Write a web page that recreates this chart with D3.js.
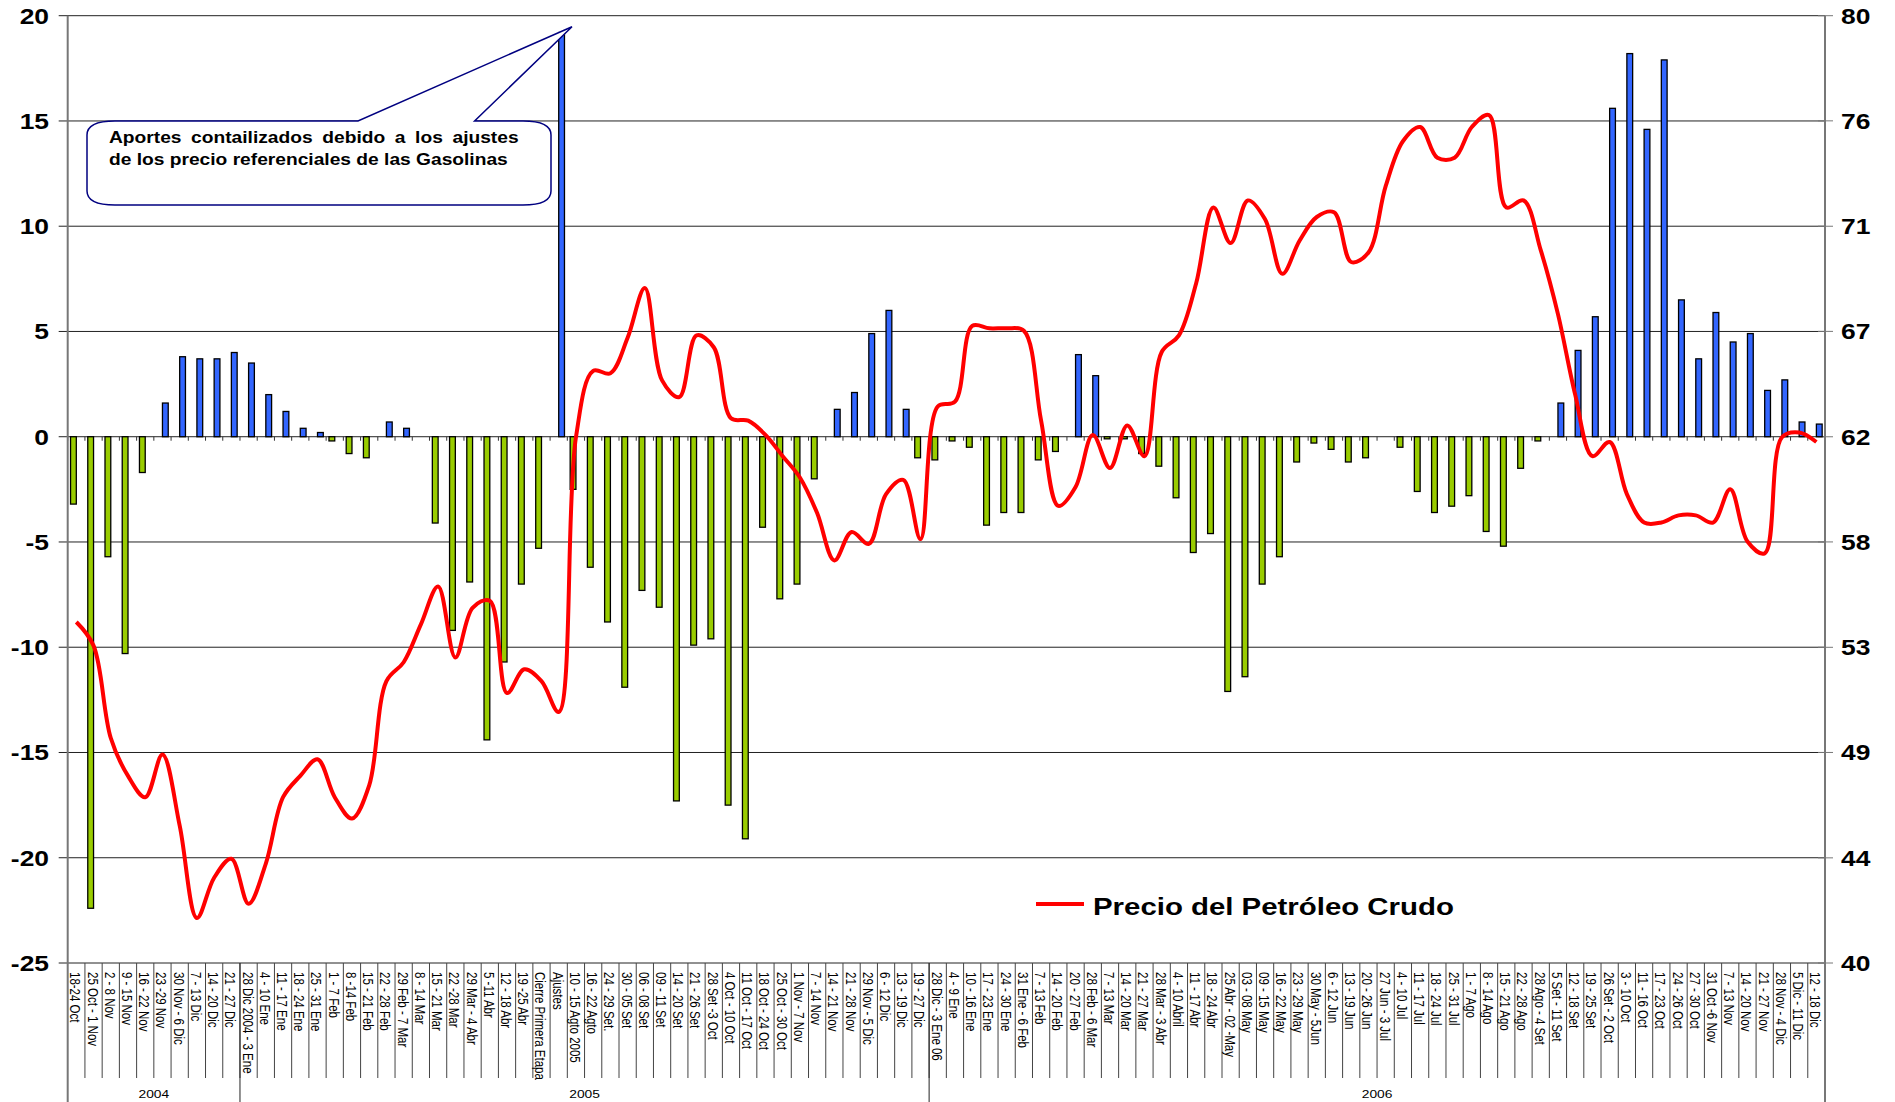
<!DOCTYPE html>
<head>
    <meta charset="utf-8"/>
    <script src="https://d3js.org/d3.v7.min.js"></script>
    <style>
        body {
            margin: 0;
            background: #fff;
        }
        text {
            font-family: "Liberation Sans", Arial, sans-serif;
        }
    </style>
</head>

<body>
<script>
    // semanas (etiquetas del eje de categorias)
    var semanas = [
        "18-24 Oct", "25 Oct - 1 Nov", "2 - 8 Nov", "9 - 15 Nov", "16 - 22 Nov", "23 -29 Nov",
        "30 Nov - 6 Dic", "7 - 13 Dic", "14 - 20 Dic", "21 - 27 Dic",
        "28 Dic 2004 - 3 Ene", "4 - 10 Ene", "11 - 17 Ene", "18 - 24 Ene", "25 - 31 Ene", "1 - 7 Feb",
        "8 -14 Feb", "15 - 21 Feb", "22 - 28 Feb", "29 Feb - 7 Mar", "8 - 14 Mar", "15 - 21 Mar",
        "22 -28 Mar", "29 Mar - 4 Abr", "5 -11 Abr", "12 - 18 Abr", "19 -25 Abr", "Cierre Primera Etapa",
        "Ajustes", "10 - 15 Agto 2005", "16 - 22 Agto", "24 - 29 Set.", "30 - 05 Set", "06 - 08 Set",
        "09 - 11 Set", "14 - 20 Set", "21 - 26 Set", "28 Set -3 Oct", "4 Oct - 10 Oct", "11 Oct - 17 Oct",
        "18 Oct - 24 Oct", "25 Oct - 30 Oct", "1 Nov - 7 Nov", "7 - 14 Nov", "14 - 21 Nov", "21 - 28 Nov",
        "29 Nov - 5 Dic", "6 - 12 Dic", "13 - 19 Dic", "19 - 27 Dic",
        "28 Dic - 3 Ene 06", "4 - 9 Ene", "10 - 16 Ene", "17 - 23 Ene", "24 - 30 Ene", "31 Ene - 6 Feb",
        "7 - 13 Feb", "14 - 20 Feb", "20 - 27 Feb", "28 Feb - 6 Mar", "7 - 13 Mar", "14 - 20 Mar",
        "21 - 27 Mar", "28 Mar - 3 Abr", "4 - 10 Abril", "11 - 17 Abr", "18 - 24 Abr", "25 Abr - 02 -May",
        "03 - 08 May", "09 - 15 May", "16 - 22 May", "23 - 29 May", "30 May - 5Jun", "6 - 12 Jun",
        "13 - 19 Jun", "20 - 26 Jun", "27 Jun - 3 Jul", "4 - 10 Jul", "11 - 17 Jul", "18 - 24 Jul",
        "25 - 31 Jul", "1 - 7 Ago", "8 - 14 Ago", "15 - 21 Ago", "22 - 28 Ago", "28 Ago - 4 Set",
        "5 Set - 11 Set", "12 - 18 Set", "19 - 25 Set", "26 Set - 2 Oct", "3 - 10 Oct", "11 - 16 Oct",
        "17 - 23 Oct", "24 - 26 Oct", "27 - 30 Oct", "31 Oct -6 Nov", "7 - 13 Nov", "14 - 20 Nov",
        "21 - 27 Nov", "28 Nov - 4 Dic", "5 Dic - 11 Dic", "12 - 18 Dic"
    ];

    var anios = ["2004", "2005", "2006"];
    var semanasPorAnio = [10, 40, 52];

    // aportes (eje izquierdo)
    var aportes = [
        -3.2, -22.4, -5.7, -10.3, -1.7, 1.6, 3.8, 3.7, 3.7, 4.0,
        3.5, 2.0, 1.2, 0.4, 0.2, -0.2, -0.8, -1.0, 0.7, 0.4,
        0, -4.1, -9.2, -6.9, -14.4, -10.7, -7.0, -5.3, 19.2, -2.5,
        -6.2, -8.8, -11.9, -7.3, -8.1, -17.3, -9.9, -9.6, -17.5, -19.1,
        -4.3, -7.7, -7.0, -2.0, 1.3, 2.1, 4.9, 6.0, 1.3, -1.0,
        -1.1, -0.2, -0.5, -4.2, -3.6, -3.6, -1.1, -0.7, 3.9, 2.9,
        -0.1, -0.1, -0.8, -1.4, -2.9, -5.5, -4.6, -12.1, -11.4, -7.0,
        -5.7, -1.2, -0.3, -0.6, -1.2, -1.0, 0, -0.5, -2.6, -3.6,
        -3.3, -2.8, -4.5, -5.2, -1.5, -0.2, 1.6, 4.1, 5.7, 15.6,
        18.2, 14.6, 17.9, 6.5, 3.7, 5.9, 4.5, 4.9, 2.2, 2.7,
        0.7, 0.6
    ];

    // precio del petroleo crudo (eje derecho)
    var precioCrudo = [
        54.4, 53.4, 49.5, 47.9, 47.0, 48.8, 45.8, 41.9, 43.6, 44.4,
        42.5, 44.2, 47.0, 47.9, 48.6, 47.0, 46.1, 47.5, 51.9, 52.7,
        54.3, 55.9, 52.9, 55.0, 55.3, 51.4, 52.4, 51.9, 50.6, 62.2,
        65.0, 64.9, 66.4, 68.5, 64.6, 63.9, 66.5, 66.0, 63.0, 62.9,
        62.3, 61.4, 60.5, 59.0, 57.0, 58.2, 57.7, 59.8, 60.4, 57.9,
        63.5, 63.7, 66.9, 66.8, 66.8, 66.7, 62.9, 59.3, 60.1, 62.3,
        60.9, 62.7, 61.4, 65.8, 66.5, 68.7, 71.9, 70.4, 72.2, 71.4,
        69.1, 70.5, 71.5, 71.7, 69.6, 70.0, 72.8, 74.7, 75.3, 74.0,
        74.0, 75.3, 75.8, 71.9, 72.2, 70.1, 67.4, 64.0, 61.4, 62.0,
        59.8, 58.6, 58.6, 58.9, 58.9, 58.6, 60.0, 57.8, 57.3, 62.2,
        62.4, 62.0
    ];

    var ticksIzq = [-25, -20, -15, -10, -5, 0, 5, 10, 15, 20];
    var ticksDer = [40, 44.44, 48.89, 53.33, 57.78, 62.22, 66.67, 71.11, 75.56, 80];

    var nota = ["Aportes contailizados debido a los ajustes",
                "de los precio referenciales de las Gasolinas"];
    var leyenda = "Precio del Petróleo Crudo";

    var width = 1895,
        height = 1102;
    var xIni = 67.7, xFin = 1825, yArriba = 15.7, yAbajo = 963;
    var estira = 1.2; // el grafico original esta estirado a lo ancho

    var svg = d3.select("body")
        .append("svg")
        .attr("width", width)
        .attr("height", height);

    var idx = d3.range(semanas.length);

    var celda = d3.scaleBand().domain(idx).range([xIni, xFin]);
    var x = d3.scaleBand().domain(idx).range([xIni, xFin]).paddingInner(0.33).paddingOuter(0.165);
    var serie = d3.scaleBand().domain(["neg", "pos"]).range([0, x.bandwidth()]);
    var yIzq = d3.scaleLinear().domain([-25, 20]).range([yAbajo, yArriba]);
    var yDer = d3.scaleLinear().domain([40, 80]).range([yAbajo, yArriba]);

    // lineas de division
    svg.append("g").selectAll("line")
        .data(ticksIzq)
        .join("line")
        .attr("x1", xIni - 9).attr("x2", xFin)
        .attr("y1", d => yIzq(d)).attr("y2", d => yIzq(d))
        .attr("stroke", "#222").attr("stroke-width", 1);

    svg.append("g").selectAll("line")
        .data(ticksDer)
        .join("line")
        .attr("x1", xFin - 7).attr("x2", xFin + 8)
        .attr("y1", d => yDer(d)).attr("y2", d => yDer(d))
        .attr("stroke", "#777").attr("stroke-width", 1);

    // marcas sobre el cero
    svg.append("g").selectAll("line")
        .data(d3.range(semanas.length + 1))
        .join("line")
        .attr("x1", d => xIni + d * celda.step()).attr("x2", d => xIni + d * celda.step())
        .attr("y1", yIzq(0)).attr("y2", yIzq(0) + 4)
        .attr("stroke", "#333").attr("stroke-width", 1);

    // barras
    var barras = aportes.map((v, i) => ({i: i, v: v})).filter(d => d.v !== 0);
    svg.append("g").selectAll("rect")
        .data(barras)
        .join("rect")
        .attr("x", d => x(d.i) + serie(d.v < 0 ? "neg" : "pos"))
        .attr("width", serie.bandwidth())
        .attr("y", d => yIzq(Math.max(0, d.v)))
        .attr("height", d => Math.abs(yIzq(d.v) - yIzq(0)))
        .attr("fill", d => d.v < 0 ? "#99cc00" : "#3366ff")
        .attr("stroke", "#000")
        .attr("stroke-width", 1.3);

    // curva del precio
    var linea = d3.line()
        .x((d, i) => x(i) + x.bandwidth() / 2)
        .y(d => yDer(d))
        .curve(d3.curveCatmullRom.alpha(0.5));

    svg.append("path")
        .datum(precioCrudo)
        .attr("d", linea)
        .attr("fill", "none")
        .attr("stroke", "#ff0000")
        .attr("stroke-width", 4)
        .attr("stroke-linejoin", "round");

    // ejes verticales
    svg.append("line").attr("x1", xIni).attr("x2", xIni).attr("y1", yArriba).attr("y2", height)
        .attr("stroke", "#777").attr("stroke-width", 2);
    svg.append("line").attr("x1", xFin).attr("x2", xFin).attr("y1", yArriba).attr("y2", height)
        .attr("stroke", "#777").attr("stroke-width", 2);

    // separadores de las etiquetas
    svg.append("g").selectAll("line")
        .data(d3.range(1, semanas.length))
        .join("line")
        .attr("x1", d => xIni + d * celda.step()).attr("x2", d => xIni + d * celda.step())
        .attr("y1", yAbajo).attr("y2", 1078)
        .attr("stroke", "#444").attr("stroke-width", 1);

    var acum = d3.cumsum(semanasPorAnio);
    svg.append("g").selectAll("line")
        .data(Array.from(acum).slice(0, -1))
        .join("line")
        .attr("x1", d => xIni + d * celda.step()).attr("x2", d => xIni + d * celda.step())
        .attr("y1", yAbajo).attr("y2", height)
        .attr("stroke", "#222").attr("stroke-width", 1);

    // etiquetas de semanas
    svg.append("g").selectAll("text")
        .data(idx)
        .join("text")
        .attr("transform", d => "translate(" + (celda(d) + celda.bandwidth() / 2) + "," + (yAbajo + 9) + ") rotate(90) scale(1,1.25)")
        .attr("dy", "0.42em")
        .attr("font-size", "11.5px")
        .attr("fill", "#000")
        .text(d => semanas[d]);

    // anios
    svg.append("g").selectAll("text")
        .data(anios)
        .join("text")
        .attr("transform", (d, k) => {
            var a = k === 0 ? 0 : acum[k - 1];
            var cx = xIni + (a + semanasPorAnio[k] / 2) * celda.step();
            return "translate(" + cx + ",1098) scale(" + estira + ",1)";
        })
        .attr("text-anchor", "middle")
        .attr("font-size", "11.5px")
        .text(d => d);

    // etiquetas de los ejes
    svg.append("g").selectAll("text")
        .data(ticksIzq)
        .join("text")
        .attr("transform", d => "translate(49," + yIzq(d) + ") scale(" + estira + ",1)")
        .attr("text-anchor", "end")
        .attr("dy", "0.36em")
        .attr("font-size", "22px")
        .attr("font-weight", "bold")
        .text(d => d);

    svg.append("g").selectAll("text")
        .data(ticksDer)
        .join("text")
        .attr("transform", d => "translate(1841," + yDer(d) + ") scale(" + estira + ",1)")
        .attr("dy", "0.36em")
        .attr("font-size", "22px")
        .attr("font-weight", "bold")
        .text(d => d3.format(".0f")(d));

    // leyenda
    svg.append("line").attr("x1", 1036).attr("x2", 1084).attr("y1", 904).attr("y2", 904)
        .attr("stroke", "#ff0000").attr("stroke-width", 4);
    svg.append("text")
        .attr("transform", "translate(1093,915) scale(" + estira + ",1)")
        .attr("font-size", "24.5px")
        .attr("font-weight", "bold")
        .text(leyenda);

    // nota con flecha
    var bx0 = 87, bx1 = 551, by0 = 121, by1 = 205, rx = 28, ry = 14;
    var p = d3.path();
    p.moveTo(bx0 + rx, by0);
    p.lineTo(358, by0);
    p.lineTo(572, 26.7);
    p.lineTo(474.6, by0);
    p.lineTo(bx1 - rx, by0);
    p.quadraticCurveTo(bx1, by0, bx1, by0 + ry);
    p.lineTo(bx1, by1 - ry);
    p.quadraticCurveTo(bx1, by1, bx1 - rx, by1);
    p.lineTo(bx0 + rx, by1);
    p.quadraticCurveTo(bx0, by1, bx0, by1 - ry);
    p.lineTo(bx0, by0 + ry);
    p.quadraticCurveTo(bx0, by0, bx0 + rx, by0);
    p.closePath();

    svg.append("path")
        .attr("d", p.toString())
        .attr("fill", "#fff")
        .attr("stroke", "#000080")
        .attr("stroke-width", 1.5);

    var t1 = svg.append("text")
        .attr("transform", "translate(109,142.5) scale(" + estira + ",1)")
        .attr("font-size", "16px")
        .attr("font-weight", "bold")
        .text(nota[0]);
    // justificado como en el original
    var natural = t1.node().getComputedTextLength();
    var objetivo = (518.6 - 109) / estira;
    t1.attr("word-spacing", (objetivo - natural) / 5);

    svg.append("text")
        .attr("transform", "translate(109,164.5) scale(" + estira + ",1)")
        .attr("font-size", "16px")
        .attr("font-weight", "bold")
        .text(nota[1]);
</script>
</body>
